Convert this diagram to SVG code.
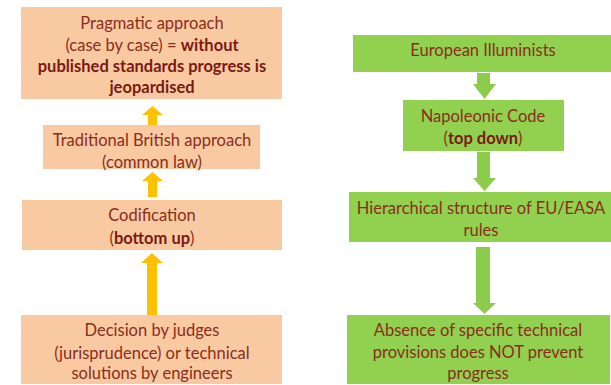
<svg xmlns="http://www.w3.org/2000/svg" width="611" height="385" viewBox="0 0 611 385">
<style>
.o{fill:#F9C9A2}
.g{fill:#92D050}
.t{font-family:Lato,"Liberation Sans",sans-serif;font-size:16.5px;fill:#8A2E1C;text-anchor:middle}
.b{font-weight:bold;fill:#7A1A12}
.ya{fill:#FFC000}
.ga{fill:#8CCB4C}
</style>
<rect width="611" height="385" fill="#ffffff"/>
<g id="connectors">
<polygon class="ya" points="148,125 157,125 157,115 163,115 152.5,106 142,115 148,115"/>
<polygon class="ya" points="148,197 157,197 157,181 163,181 152.5,172 142,181 148,181"/>
<polygon class="ya" points="147,315 157,315 157,263 163,263 152,253 141,263 147,263"/>
<polygon class="ga" points="477,73 490,73 490,84 496,84 484.5,99 473,84 477,84"/>
<polygon class="ga" points="477,152 490,152 490,178 496,178 484.5,191 473,178 477,178"/>
<polygon class="ga" points="476,247 490,247 490,303 496,303 484.5,314 473,303 476,303"/>
</g>
<g id="pragmatic">
<rect class="o" x="21" y="7" width="261" height="92"/>
<text class="t" x="152" y="29">Pragmatic approach</text>
<text class="t" x="152" y="51">(case by case) = <tspan class="b">without</tspan></text>
<text class="t b" x="152" y="72">published standards progress is</text>
<text class="t b" x="152" y="93">jeopardised</text>
</g>
<g id="traditional">
<rect class="o" x="43" y="125" width="217" height="44"/>
<text class="t" x="152" y="146">Traditional British approach</text>
<text class="t" x="152" y="168">(common law)</text>
</g>
<g id="codification">
<rect class="o" x="22" y="200" width="260" height="50"/>
<text class="t" x="152" y="221">Codification</text>
<text class="t" x="152" y="244">(<tspan class="b">bottom up</tspan>)</text>
</g>
<g id="decision">
<rect class="o" x="21" y="315" width="261" height="69"/>
<text class="t" x="152" y="336">Decision by judges</text>
<text class="t" x="152" y="359">(jurisprudence) or technical</text>
<text class="t" x="152" y="379">solutions by engineers</text>
</g>
<g id="european">
<rect class="g" x="353" y="35" width="258" height="37"/>
<text class="t" x="483" y="56">European Illuminists</text>
</g>
<g id="napoleonic">
<rect class="g" x="403" y="100" width="161" height="51"/>
<text class="t" x="483" y="122">Napoleonic Code</text>
<text class="t" x="483" y="144">(<tspan class="b">top down</tspan>)</text>
</g>
<g id="hierarchical">
<rect class="g" x="349" y="192" width="262" height="50"/>
<text class="t" x="481" y="214">Hierarchical structure of EU/EASA</text>
<text class="t" x="481" y="236">rules</text>
</g>
<g id="absence">
<rect class="g" x="347" y="315" width="263" height="69"/>
<text class="t" x="478" y="336">Absence of specific technical</text>
<text class="t" x="478" y="358">provisions does NOT prevent</text>
<text class="t" x="478" y="379">progress</text>
</g>
</svg>
